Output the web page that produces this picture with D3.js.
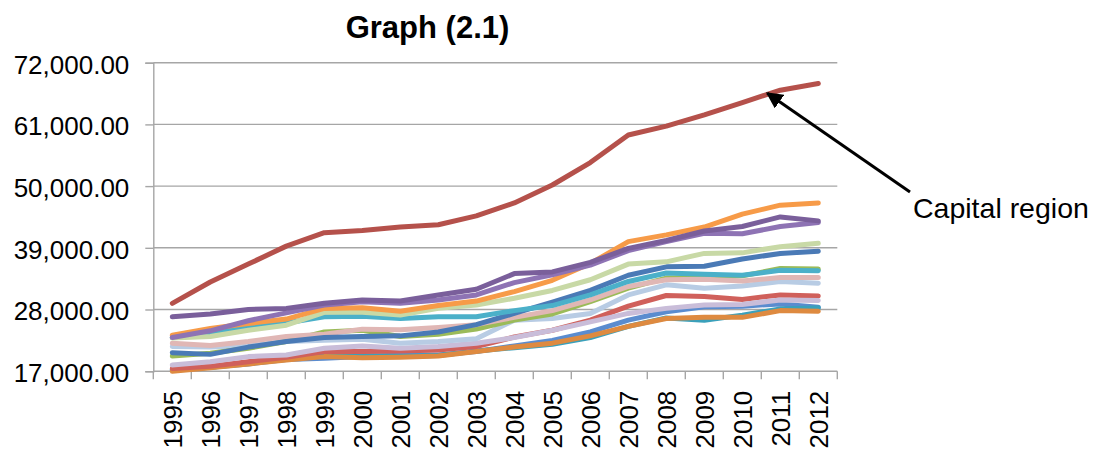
<!DOCTYPE html>
<html>
<head>
<meta charset="utf-8">
<script src="https://d3js.org/d3.v7.min.js"></script>
<style>
  html, body { margin: 0; padding: 0; background: #ffffff; }
  svg { display: block; }
  text { font-family: "Liberation Sans", Arial, Helvetica, sans-serif; fill: #000; }
</style>
</head>
<body>
<svg id="chart" width="1101" height="450"></svg>
<script>
// ---------- DATA ----------
const title = "Graph (2.1)";
const annotationText = "Capital region";
const years = ["1995","1996","1997","1998","1999","2000","2001","2002","2003","2004","2005","2006","2007","2008","2009","2010","2011","2012"];
const yTicks = [17000, 28000, 39000, 50000, 61000, 72000];

const capitalRegion = [29100,32900,36100,39300,41700,42100,42700,43100,44700,47000,50200,54200,59100,60700,62700,64900,67100,68300];
const seriesDarkPurple = [26700,27200,28000,28200,29100,29700,29500,30600,31600,34400,34700,36400,38900,40300,42000,42800,44500,43800];
const seriesLightPurple = [23000,24200,26000,27400,28800,29400,29100,29700,30600,32800,34200,35900,38500,40100,41600,41500,42800,43500];
const seriesOrange = [23400,24600,25500,26300,28200,28300,27700,28700,29500,31200,33200,36200,40100,41300,42700,45000,46600,47000];
const seriesSage = [22900,23200,24300,25200,27500,27500,27000,28200,28800,30000,31400,33300,36100,36500,38000,38100,39200,39800];
const seriesBlue = [20300,20000,21300,22300,23000,23200,23300,24000,25300,27300,29300,31400,34100,35600,35700,37000,38000,38400];
const seriesTeal = [23000,23900,24800,25600,26700,26800,26400,26700,26700,27800,28700,30600,33000,34500,34300,34100,35000,34900];
const seriesGreen = [19700,20200,21100,22300,24000,24300,23200,23600,24500,26100,27200,29400,31800,33600,33700,34000,35300,35200];
const seriesPink = [22000,21600,22300,23200,23600,24500,24400,24800,25300,26600,27800,29700,32100,33300,33400,33100,33700,33700];
const seriesLightBlue = [21400,21300,21500,22300,22500,22700,22000,22300,22800,26100,26400,27300,30600,32400,31800,32200,33000,32700];
const seriesRed = [17500,17900,18700,19500,20500,20500,20600,20800,21400,23100,24300,26100,28600,30500,30300,29800,30600,30400];
const seriesLavender = [18100,18700,19600,19900,21100,21500,21100,21400,22000,23000,24300,25800,27300,28200,28800,28900,29700,29600];
const seriesBlue2 = [17200,17700,18300,19100,19300,19600,19900,19900,20500,21500,22500,24000,26100,27600,28500,28600,29000,28400];
const seriesTeal2 = [17300,17700,18400,19200,19700,19800,19600,19800,20600,21200,21800,23000,25000,26500,26100,27000,28100,28300];
const seriesOrangeDark = [17000,17600,18300,19000,19600,19400,19500,19700,20500,21300,22000,23300,25000,26400,26600,26600,27800,27700];

// ---------- STYLES (kept apart from data) ----------
const seriesList = [
  { values: seriesBlue2,       color: "#5a8ccf" },
  { values: seriesTeal2,       color: "#3aa0bb" },
  { values: seriesOrangeDark,  color: "#de8a40" },
  { values: seriesRed,         color: "#d0605b" },
  { values: seriesLavender,    color: "#c9bdd9" },
  { values: seriesLightBlue,   color: "#b8cce4" },
  { values: seriesGreen,       color: "#9bbb59" },
  { values: seriesPink,        color: "#e0b7b5" },
  { values: seriesBlue,        color: "#4a7ab6" },
  { values: seriesTeal,        color: "#4bb0c9" },
  { values: seriesSage,        color: "#c8d9a6" },
  { values: seriesOrange,      color: "#f79b48" },
  { values: seriesLightPurple, color: "#8e73b4" },
  { values: seriesDarkPurple,  color: "#7a5f9b" },
  { values: capitalRegion,     color: "#b5514b" }
];

// ---------- LAYOUT ----------
const svg = d3.select("#chart");
const plotLeft = 153.3, plotRight = 837.3, plotTop = 62.7, plotBottom = 371.2;
const gridColor = "#a6a6a6";

svg.append("rect").attr("width", 1101).attr("height", 450).attr("fill", "#fff");

const x = d3.scaleBand().domain(years).range([plotLeft, plotRight]).padding(0);
const y = d3.scaleLinear().domain([17000, 72000]).range([plotBottom, plotTop]);

// gridlines
svg.append("g").selectAll("line").data(yTicks.filter(d => d !== 17000)).join("line")
  .attr("x1", plotLeft).attr("x2", plotRight)
  .attr("y1", d => y(d)).attr("y2", d => y(d))
  .attr("stroke", gridColor).attr("stroke-width", 1.4);

// y axis
const yAxis = svg.append("g").attr("transform", `translate(${plotLeft},0)`)
  .call(d3.axisLeft(y).tickValues(yTicks).tickFormat(d3.format(",.2f")).tickSize(8).tickPadding(16));
yAxis.select(".domain").attr("stroke", gridColor).attr("stroke-width", 1.4);
yAxis.selectAll(".tick line").attr("stroke", gridColor).attr("stroke-width", 1.4);
yAxis.selectAll(".tick text")
  .attr("font-size", 26).attr("font-family", "Liberation Sans, Arial, sans-serif")
  .attr("fill", "#000").attr("dy", "0.4em");

// x axis: labels at category centres, tick marks at boundaries
const xAxis = svg.append("g").attr("transform", `translate(0,${plotBottom})`)
  .call(d3.axisBottom(x).tickSize(0).tickPadding(0));
xAxis.select(".domain").remove();
xAxis.selectAll(".tick text")
  .attr("font-size", 26).attr("font-family", "Liberation Sans, Arial, sans-serif")
  .attr("fill", "#000")
  .attr("transform", "rotate(-90)")
  .attr("text-anchor", "end")
  .attr("x", -19.5).attr("y", 0).attr("dy", "0.36em");

const boundaries = years.map(d => x(d)).concat([x(years[years.length - 1]) + x.bandwidth()]);
const xb = svg.append("g");
xb.append("line").attr("x1", plotLeft).attr("x2", plotRight).attr("y1", plotBottom).attr("y2", plotBottom)
  .attr("stroke", gridColor).attr("stroke-width", 1.4);
xb.selectAll("line.tk").data(boundaries).join("line").attr("class", "tk")
  .attr("x1", d => d).attr("x2", d => d).attr("y1", plotBottom).attr("y2", plotBottom + 8)
  .attr("stroke", gridColor).attr("stroke-width", 1.4);

// lines
const line = d3.line()
  .x((d, i) => x(years[i]) + x.bandwidth() / 2)
  .y(d => y(d));

svg.append("g").selectAll("path").data(seriesList).join("path")
  .attr("d", s => line(s.values))
  .attr("fill", "none")
  .attr("stroke", s => s.color)
  .attr("stroke-width", 5)
  .attr("stroke-linejoin", "round")
  .attr("stroke-linecap", "round");

// title
svg.append("text").attr("x", 427.5).attr("y", 37.5)
  .attr("text-anchor", "middle").attr("font-size", 31).attr("font-weight", "bold")
  .text(title);

// annotation arrow
const defs = svg.append("defs");
defs.append("marker").attr("id", "arrowhead")
  .attr("viewBox", "0 0 10 10").attr("refX", 9).attr("refY", 5)
  .attr("markerWidth", 5.5).attr("markerHeight", 5.5).attr("markerUnits", "strokeWidth")
  .attr("orient", "auto")
  .append("path").attr("d", "M0,0 L10,5 L0,10 Z").attr("fill", "#000");

const tipIndex = years.indexOf("2011");
const tipX = x(years[tipIndex]) + x.bandwidth() / 2 - 13;
const tipY = y(capitalRegion[tipIndex]) + 3;
svg.append("line")
  .attr("x1", 910).attr("y1", 192)
  .attr("x2", tipX).attr("y2", tipY)
  .attr("stroke", "#000").attr("stroke-width", 3)
  .attr("marker-end", "url(#arrowhead)");

svg.append("text").attr("x", 913).attr("y", 218)
  .attr("font-size", 28.5).text(annotationText);
</script>
</body>
</html>
